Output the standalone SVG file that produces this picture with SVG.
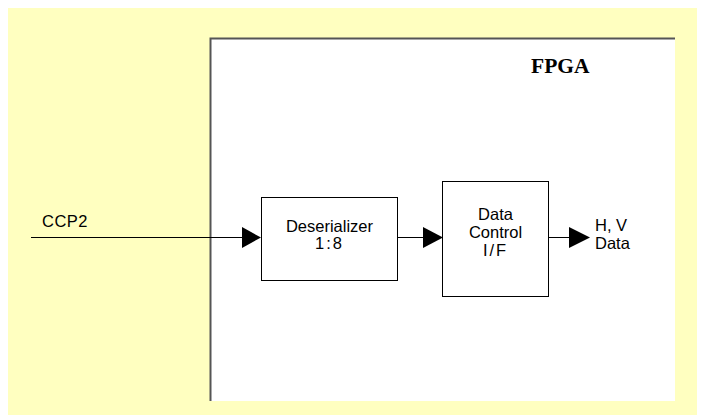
<svg xmlns="http://www.w3.org/2000/svg" width="702" height="415" viewBox="0 0 702 415">
<defs>
<style>
.lbl{font-family:"Liberation Sans","Noto Sans CJK JP",Arial,sans-serif;font-size:16.5px;fill:#000}
.box{fill:#fff;stroke:#000;stroke-width:1}
.wire{stroke:#000;stroke-width:1;fill:none}
.head{fill:#000}
</style>
</defs>
<rect x="0" y="0" width="702" height="415" fill="#fff"/>
<rect x="8" y="8" width="689" height="407" fill="#ffffc0"/>
<g id="fpga">
<rect x="210" y="38" width="465" height="363" fill="#fff"/>
<path d="M210.5 401 V38.5 H675" stroke="#555" stroke-width="2" fill="none"/>
<text x="531" y="73" font-family="Liberation Serif,'Times New Roman',serif" font-weight="bold" font-size="21.5px">FPGA</text>
</g>
<g id="connectors">
<line class="wire" x1="31" y1="237.5" x2="243" y2="237.5"/>
<polygon class="head" points="242,227 261,237.5 242,248"/>
<line class="wire" x1="397" y1="237.5" x2="424" y2="237.5"/>
<polygon class="head" points="423,227 443,237.5 423,248"/>
<line class="wire" x1="548" y1="237.5" x2="570" y2="237.5"/>
<polygon class="head" points="569,227 590,237.5 569,248"/>
</g>
<g id="ccp2">
<text class="lbl" x="42" y="227" letter-spacing="0.5">CCP2</text>
</g>
<g id="deserializer">
<rect class="box" x="261.5" y="197.5" width="136" height="83"/>
<text class="lbl" x="329.5" y="232" text-anchor="middle">Deserializer</text>
<text class="lbl" x="329.5" y="249" text-anchor="middle" letter-spacing="2">1:8</text>
</g>
<g id="datacontrol">
<rect class="box" x="442.5" y="181.5" width="106" height="115"/>
<text class="lbl" x="495.5" y="220" text-anchor="middle">Data</text>
<text class="lbl" x="495.5" y="238" text-anchor="middle">Control</text>
<text class="lbl" x="495.5" y="256" text-anchor="middle" letter-spacing="2">I/F</text>
</g>
<g id="hvdata">
<text class="lbl" x="595" y="231">H, V</text>
<text class="lbl" x="595" y="249">Data</text>
</g>
</svg>
